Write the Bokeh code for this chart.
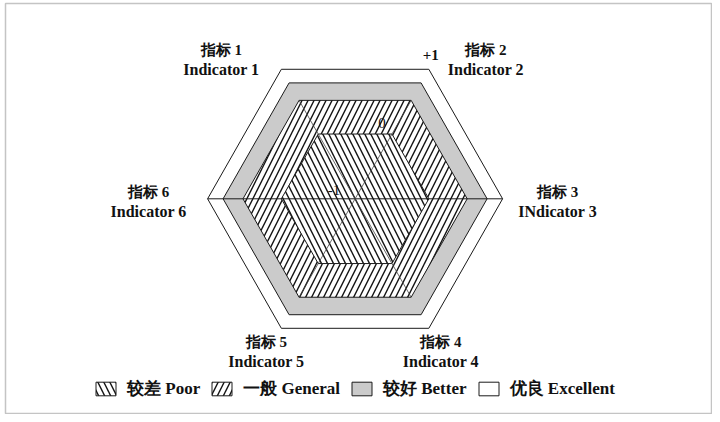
import numpy as np
from bokeh.plotting import figure
from bokeh.models import Range1d, Legend, LegendItem
from bokeh.core.properties import value
from bokeh.embed import file_html
from bokeh.resources import INLINE

# ---------------- data ----------------
indicators_cn = ["指标 1", "指标 2", "指标 3", "指标 4", "指标 5", "指标 6"]
indicators_en = ["Indicator 1", "Indicator 2", "INdicator 3", "Indicator 4", "Indicator 5", "Indicator 6"]
axis_angles_deg = [120, 60, 0, -60, -120, 180]
levels = ["较差 Poor", "一般 General", "较好 Better", "优良 Excellent"]
level_upper = [0.0, 0.52, 0.79, 1.0]      # outer boundary of each grade on the -1..+1 scale
scale_values = [-1, 0, 1]
scale_labels = ["-1", "0", "+1"]

# ---------------- styles / layout ----------------
FONT = "Liberation Serif"
level_fill = ["white", "white", "#cbcbcb", "white"]
level_hatch = ["\\", "/", None, None]
scale_offsets = [(-21, -9), (-10, -11), (2, -14)]     # px offsets of the scale labels
scale_bold = ["normal", "normal", "bold"]
# px offsets of the indicator labels from the outer vertices: (dx, dy chinese line, dy english line)
label_offsets = [(-60, -19, 0), (57, -19, 0), (55, -7, 13), (12, 14, 33), (-15, 14, 33), (-59, -7, 13)]

W, H = 712, 414
p = figure(width=W, height=H, output_backend="svg", toolbar_location=None,
           x_range=Range1d(-4.7403, 4.8461), y_range=Range1d(-2.8849, 2.6120),
           x_axis_type=None, y_axis_type=None,
           min_border_left=5, min_border_top=3, min_border_right=0, min_border_bottom=0)
p.grid.visible = False
p.outline_line_color = "#c4c4c4"
p.outline_line_width = 1.5

def r_of(v):
    return v + 1.0

hex_ang = np.deg2rad(np.arange(0, 360, 60))

renderers = []
for i in reversed(range(len(levels))):
    r = r_of(level_upper[i])
    xs = list(r * np.cos(hex_ang))
    ys = list(r * np.sin(hex_ang))
    kw = dict(fill_color=level_fill[i], line_color="#1a1a1a", line_width=1)
    if level_hatch[i]:
        kw.update(hatch_pattern=level_hatch[i], hatch_scale=12, hatch_weight=1.4, hatch_color="#111")
    rr = p.patch(xs, ys, **kw)
    renderers.insert(0, rr)

# axis lines
r_out = r_of(max(scale_values))
p.line([-r_out, r_out], [0, 0], line_color="#1a1a1a", line_width=1)
r_gen = r_of(level_upper[1])
for a in (60, 120):
    t = np.deg2rad(a)
    p.line([r_gen * np.cos(t), -r_gen * np.cos(t)], [r_gen * np.sin(t), -r_gen * np.sin(t)],
           line_color="#444", line_width=0.8)

# scale labels along the 60 degree axis
t60 = np.deg2rad(60)
for v, lab, off, fw in zip(scale_values, scale_labels, scale_offsets, scale_bold):
    rv = r_of(v)
    p.text([rv * np.cos(t60)], [rv * np.sin(t60)], text=[lab], x_offset=off[0], y_offset=off[1],
           text_align="center", text_baseline="middle", text_font=value(FONT),
           text_font_size="15px", text_font_style=fw, text_color="#111")

# indicator labels
for cn, en, a, off in zip(indicators_cn, indicators_en, axis_angles_deg, label_offsets):
    t = np.deg2rad(a)
    vx, vy = r_out * np.cos(t), r_out * np.sin(t)
    p.text([vx], [vy], text=[cn], x_offset=off[0], y_offset=off[1],
           text_align="center", text_baseline="middle", text_font=value(FONT),
           text_font_size="15px", text_font_style="bold", text_color="#111")
    p.text([vx], [vy], text=[en], x_offset=off[0], y_offset=off[2],
           text_align="center", text_baseline="middle", text_font=value(FONT),
           text_font_size="16px", text_font_style="bold", text_color="#111")

legend = Legend(items=[LegendItem(label=levels[i], renderers=[renderers[i]]) for i in range(len(levels))],
                orientation="horizontal", location=(88, 14), glyph_width=25, glyph_height=17,
                label_height=17, label_standoff=9, spacing=9, padding=0, margin=0,
                border_line_alpha=0, background_fill_alpha=0,
                label_text_font=FONT, label_text_font_style="bold", label_text_font_size="17px",
                label_text_color="#111")
p.add_layout(legend)

open("out.html", "w").write(file_html(p, INLINE))
